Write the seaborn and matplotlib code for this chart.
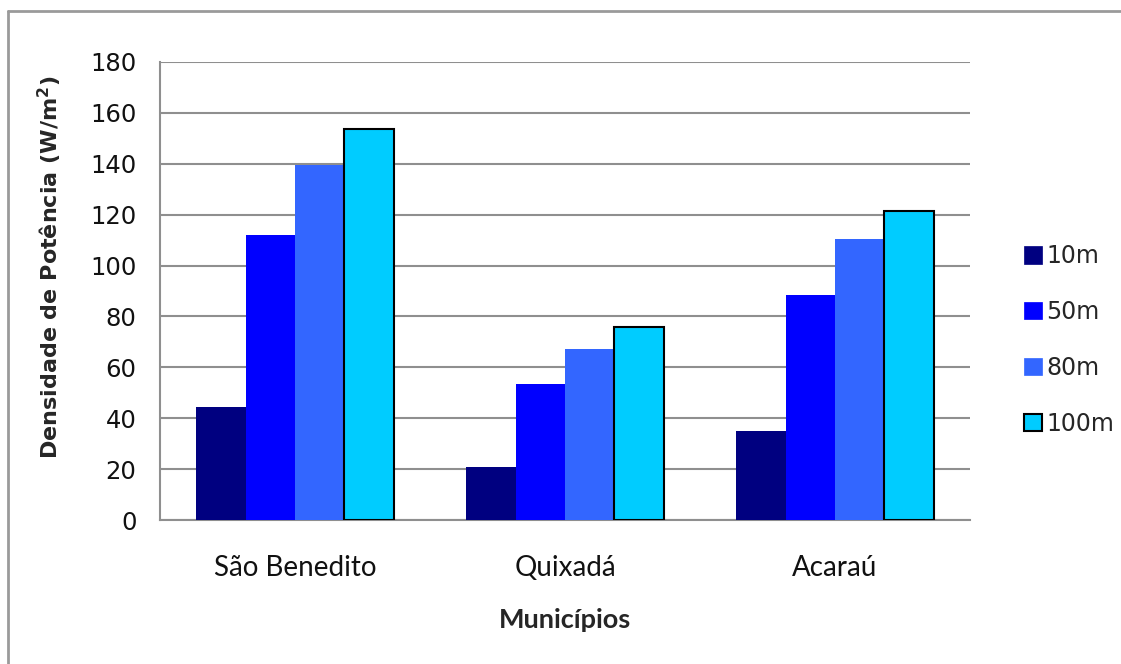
import matplotlib
matplotlib.use("Agg")
import matplotlib.pyplot as plt
from matplotlib.patches import Patch
from matplotlib.lines import Line2D
import seaborn as sns
import pandas as pd

municipios = ["São Benedito", "Quixadá", "Acaraú"]
alturas = ["10m", "50m", "80m", "100m"]
v10 = [44.5, 21, 35]
v50 = [112, 53.3, 88.4]
v80 = [139.5, 67.2, 110.4]
v100 = [153.8, 75.7, 121.5]
yticks = [0, 20, 40, 60, 80, 100, 120, 140, 160, 180]
cores = ["#000080", "#0000FF", "#3366FF", "#00CCFF"]

rows = []
for alt, vals in zip(alturas, [v10, v50, v80, v100]):
    for m, v in zip(municipios, vals):
        rows.append({"Município": m, "Altura": alt, "Valor": v})
df = pd.DataFrame(rows)

sns.set_style("white")
plt.rcParams['font.family'] = ['DejaVu Sans']

fig = plt.figure(figsize=(11.21, 6.64), dpi=100)
ax = fig.add_axes([160/1121, 1 - 520/664, 810/1121, 458/664])

sns.barplot(data=df, x="Município", y="Valor", hue="Altura",
            order=municipios, hue_order=alturas, palette=cores,
            width=0.733, gap=0, saturation=1, ax=ax, legend=False,
            edgecolor="none", linewidth=0, zorder=3)

# black outline on 100m bars
for bar in ax.containers[3]:
    bar.set_edgecolor("black")
    bar.set_linewidth(1.5)

ax.set_ylim(0, 180)
ax.set_xlim(-0.5, 2.5)
ax.set_yticks(yticks)
ax.set_yticklabels([str(t) for t in yticks], fontsize=17.5, color="#111111")
ax.yaxis.grid(True, color="#8f8f8f", linewidth=1.5, zorder=0)
ax.set_axisbelow(True)

ax.set_xticks(range(len(municipios)))
ax.set_xticklabels(municipios, family=["Lato", "DejaVu Sans"], fontsize=20, color="#111111")
ax.set_xticks([-0.5, 0.5, 1.5, 2.5], minor=True)
ax.tick_params(axis="x", which="major", length=0, pad=25)
ax.tick_params(axis="x", which="minor", length=8, width=1.5, color="#8f8f8f", direction="out")
ax.tick_params(axis="y", length=9, width=1.5, color="#8f8f8f", direction="out", pad=8)

for s in ["top", "right"]:
    ax.spines[s].set_visible(False)
for s in ["left", "bottom"]:
    ax.spines[s].set_color("#8f8f8f")
    ax.spines[s].set_linewidth(1.5)

ax.set_xlabel("Municípios", family=["Lato", "DejaVu Sans"], fontweight="bold",
              fontsize=19.5, labelpad=20)
ax.set_ylabel("Densidade de Potência (W/m$^\\mathbf{2}$)", fontweight="bold",
              fontsize=16, va="center")
ax.yaxis.set_label_coords(-0.136, 0.551)

handles = []
for i, (lab, c) in enumerate(zip(alturas, cores)):
    ec = "black" if i == 3 else c
    handles.append(Patch(facecolor=c, edgecolor=ec, linewidth=1.5 if i == 3 else 0.5, label=lab))
fig.legend(handles=handles, loc="center left", bbox_to_anchor=(1024/1121, 1 - 340/664),
           frameon=False, fontsize=17, handlelength=0.75, handleheight=0.75,
           handletextpad=0.2, labelspacing=1.35, borderaxespad=0, borderpad=0)

# figure border (top and left visible)
fig.add_artist(Line2D([8/1121, 1], [1 - 11/664, 1 - 11/664], color="#9a9a9a", linewidth=2,
                      transform=fig.transFigure))
fig.add_artist(Line2D([8/1121, 8/1121], [0, 1 - 11/664], color="#9a9a9a", linewidth=2,
                      transform=fig.transFigure))

fig.savefig("out.png", dpi=100, facecolor="white")
